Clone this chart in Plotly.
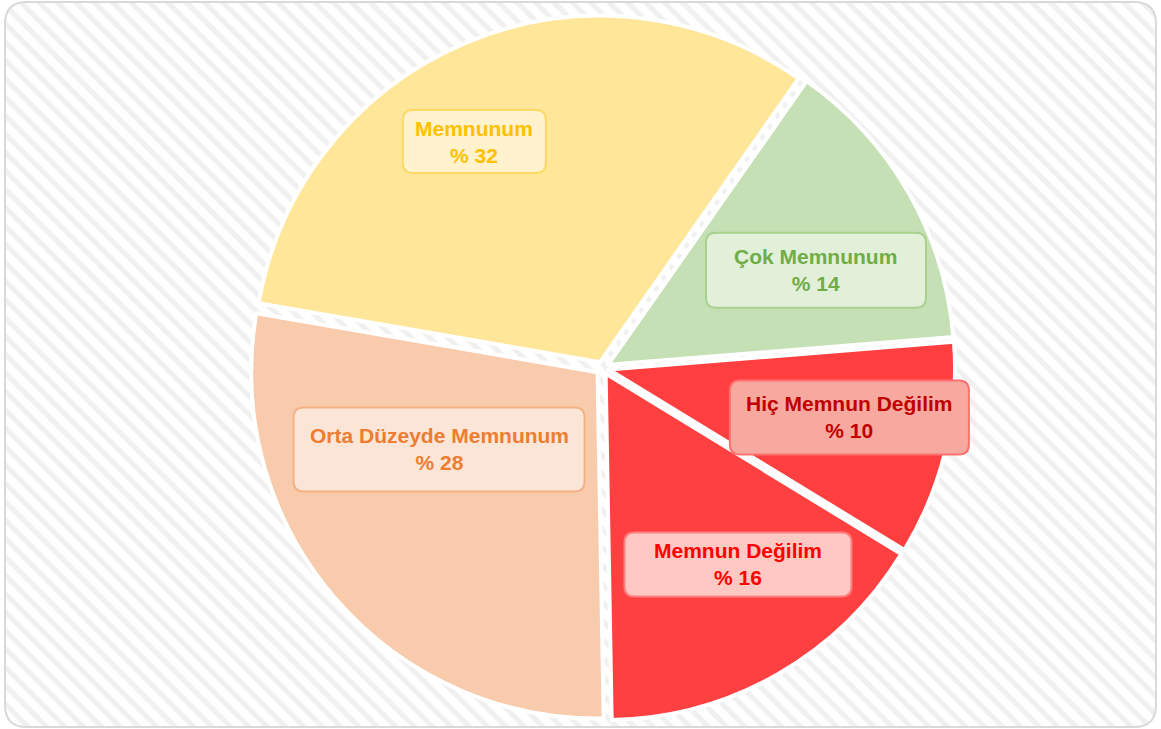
import math
import plotly.graph_objects as go

# ---------------- data ----------------
categories = ["Çok Memnunum", "Hiç Memnun Değilim", "Memnun Değilim",
              "Orta Düzeyde Memnunum", "Memnunum"]
percentages = [14, 10, 16, 28, 32]

# ---------------- styles ----------------
slice_colors = ["#C5E0B4", "#FF3F3F", "#FF4040", "#F8CBAD", "#FFE699"]
text_colors = ["#70AD47", "#C00000", "#FF0000", "#ED7D31", "#FFC000"]
box_fill = ["#E2F0D9", "#F8A99F", "#FFC8C2", "#FBE5D6", "#FFF2CC"]
box_line = ["#A9D18E", "#FF7070", "#FF8080", "#F4B183", "#FFD966"]
box_size = [(220, 75), (239, 74), (227, 64), (291, 84), (143, 63)]   # px
label_radius = [0.678, 0.727, 0.689, 0.527, 0.751]                   # fraction of r
label_shift = [5.2, -2.1, -4.8, 14.1, -6.9]                          # degrees

W, H = 1161, 729
ROTATION = 35
PULL = 0.0185
DOM_X = [0.5189 - 0.40, 0.5189 + 0.40]
DOM_Y = [0.0112, 0.9791]

fig = go.Figure()

# hatched background
fig.add_trace(go.Bar(
    x=[0.5], y=[1], width=[1], base=0,
    marker=dict(color="white", line=dict(width=0),
                pattern=dict(shape="\\", size=13, solidity=0.4,
                             fgcolor="#f0f0f0", bgcolor="white",
                             fillmode="replace")),
    hoverinfo="skip", showlegend=False,
))

fig.add_trace(go.Pie(
    labels=categories, values=percentages,
    sort=False, direction="clockwise", rotation=ROTATION,
    pull=PULL, textinfo="none", hoverinfo="skip",
    marker=dict(colors=slice_colors, line=dict(color="white", width=4)),
    domain=dict(x=DOM_X, y=DOM_Y), showlegend=False,
))

# pie geometry (same as plotly's)
dw = (DOM_X[1] - DOM_X[0]) * W
dh = (DOM_Y[1] - DOM_Y[0]) * H
r = min(dw, dh) / 2 / (1 + PULL)
cx = (DOM_X[0] + DOM_X[1]) / 2 * W
cy = (1 - (DOM_Y[0] + DOM_Y[1]) / 2) * H


def rounded_rect(w, h, rad):
    x0, x1, y0, y1 = -w / 2, w / 2, -h / 2, h / 2
    return (f"M {x0+rad},{y0} L {x1-rad},{y0} Q {x1},{y0} {x1},{y0+rad} "
            f"L {x1},{y1-rad} Q {x1},{y1} {x1-rad},{y1} "
            f"L {x0+rad},{y1} Q {x0},{y1} {x0},{y1-rad} "
            f"L {x0},{y0+rad} Q {x0},{y0} {x0+rad},{y0} Z")


shapes = []
annotations = []
total = sum(percentages)
cum = 0
for i, (cat, v) in enumerate(zip(categories, percentages)):
    mid = ROTATION + 360 * (cum + v / 2) / total + label_shift[i]
    cum += v
    a = math.radians(mid)
    px = cx + label_radius[i] * r * math.sin(a)
    py = cy - label_radius[i] * r * math.cos(a)
    xp, yp = px / W, 1 - py / H
    bw, bh = box_size[i]
    shapes.append(dict(
        type="path", xref="paper", yref="paper",
        xsizemode="pixel", ysizemode="pixel", xanchor=xp, yanchor=yp,
        path=rounded_rect(bw, bh, 10),
        fillcolor=box_fill[i], line=dict(color=box_line[i], width=2),
        layer="above",
    ))
    annotations.append(dict(
        x=xp, y=yp, xref="paper", yref="paper", showarrow=False,
        xanchor="center", yanchor="middle", align="center",
        text=f"<b>{cat}<br>% {v}</b>",
        font=dict(family="Liberation Sans, Arial, sans-serif", size=21,
                  color=text_colors[i]),
    ))

# outer rounded frame + white corner mask
fw, fh, fr = 1151, 725, 22
outer = f"M {-W},{-H} L {W},{-H} L {W},{H} L {-W},{H} Z "
shapes.append(dict(
    type="path", xref="paper", yref="paper",
    xsizemode="pixel", ysizemode="pixel", xanchor=0.5, yanchor=0.5,
    path=outer + rounded_rect(fw, fh, fr), fillcolor="white",
    line=dict(width=0), layer="above",
))
shapes.append(dict(
    type="path", xref="paper", yref="paper",
    xsizemode="pixel", ysizemode="pixel", xanchor=0.5, yanchor=0.5,
    path=rounded_rect(fw, fh, fr), fillcolor="rgba(0,0,0,0)",
    line=dict(color="#d9d9d9", width=2), layer="above",
))

fig.update_layout(
    width=W, height=H, margin=dict(l=0, r=0, t=0, b=0),
    paper_bgcolor="white", plot_bgcolor="white",
    xaxis=dict(range=[0, 1], visible=False, fixedrange=True, domain=[0, 1]),
    yaxis=dict(range=[0, 1], visible=False, fixedrange=True, domain=[0, 1]),
    bargap=0, hovermode=False, showlegend=False,
    shapes=shapes, annotations=annotations,
)

fig.write_html(
    "out.html",
    config={"displayModeBar": False},
    post_script="document.body.style.margin='0px';"
                "document.body.style.overflow='hidden';",
)
